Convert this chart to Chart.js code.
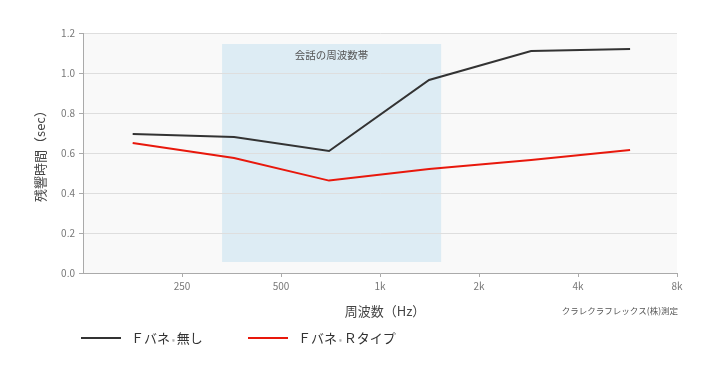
<!DOCTYPE html>
<html>
<head>
<meta charset="utf-8">
<script src="https://cdn.jsdelivr.net/npm/chart.js@4.4.1/dist/chart.umd.min.js"></script>
<style>
  body { margin: 0; background: #fff; }
  #wrap { position: relative; width: 710px; height: 376px; }
  #chart { position: absolute; left: 0; top: 0; }
  .item { position: absolute; top: 328px; height: 20px; font-family: "Noto Sans CJK JP", sans-serif; font-size: 13px; color: #333; line-height: 20px; white-space: nowrap; }
  .item .ln { position: absolute; left: 0; top: 9px; width: 40px; height: 2px; }
  .item .tx { position: absolute; left: 50px; top: 0; }
  .item .r { font-size: 6px; color: #777; vertical-align: -1px; margin: 0 2px; }
</style>
</head>
<body>
<div id="wrap">
  <canvas id="chart" width="710" height="376"></canvas>
  <div class="item" style="left:81px;"><span class="ln" style="background:#333;"></span><span class="tx">Ｆバネ<span class="r">®</span>無し</span></div>
  <div class="item" style="left:248px;"><span class="ln" style="background:#e8180c;"></span><span class="tx">Ｆバネ<span class="r">®</span>Ｒタイプ</span></div>
</div>
<script>
// 周波数 (Hz) と残響時間 (sec)
const freqs = [177, 360, 700, 1410, 2880, 5760];
const plainSpring = [0.695, 0.68, 0.61, 0.965, 1.11, 1.12];
const rTypeSpring = [0.65, 0.575, 0.462, 0.52, 0.565, 0.615];
const seriesNames = ['Ｆバネ®無し', 'ＦバネＲタイプ'];

const xTicks = [250, 500, 1000, 2000, 4000, 8000];
const xTickLabels = ['250', '500', '1k', '2k', '4k', '8k'];

// 会話の周波数帯
const bandFreq = [331, 1534];
const bandTime = [0.055, 1.145];
const bandLabel = '会話の周波数帯';

const FONT = '"Noto Sans CJK JP", sans-serif';

function toPoints(vals) {
  return freqs.map((f, i) => ({ x: f, y: vals[i] }));
}

const backdrop = {
  id: 'backdrop',
  beforeDraw(chart) {
    const a = chart.chartArea, c = chart.ctx;
    const x = chart.scales.x, y = chart.scales.y;
    c.save();
    c.fillStyle = '#f9f9f9';
    c.fillRect(a.left, a.top, a.right - a.left, a.bottom - a.top);
    const x0 = x.getPixelForValue(bandFreq[0]), x1 = x.getPixelForValue(bandFreq[1]);
    const y0 = y.getPixelForValue(bandTime[1]), y1 = y.getPixelForValue(bandTime[0]);
    c.fillStyle = '#ddecf4';
    c.fillRect(x0, y0, x1 - x0, y1 - y0);
    c.fillStyle = '#555';
    c.font = '10.5px ' + FONT;
    c.textAlign = 'center';
    c.textBaseline = 'middle';
    c.fillText(bandLabel, (x0 + x1) / 2, y0 + 11);
    c.restore();
  },
  afterDraw(chart) {
    const a = chart.chartArea, c = chart.ctx;
    c.save();
    c.fillStyle = '#444';
    c.font = '13px ' + FONT;
    c.textAlign = 'center';
    c.textBaseline = 'middle';
    c.fillText('周波数（Hz）', 385, 311);
    c.translate(40, (a.top + a.bottom) / 2);
    c.rotate(-Math.PI / 2);
    c.fillText('残響時間（sec）', 0, 0);
    c.restore();
    c.save();
    c.fillStyle = '#555';
    c.font = '8.5px ' + FONT;
    c.textAlign = 'right';
    c.textBaseline = 'middle';
    c.fillText('クラレクラフレックス(株)測定', a.right + 1, 311);
    c.restore();
  }
};

new Chart(document.getElementById('chart'), {
  type: 'line',
  data: {
    datasets: [{
      label: seriesNames[0],
      data: toPoints(plainSpring),
      borderColor: '#333333',
      borderWidth: 2,
      pointRadius: 0,
      tension: 0
    }, {
      label: seriesNames[1],
      data: toPoints(rTypeSpring),
      borderColor: '#e8180c',
      borderWidth: 2,
      pointRadius: 0,
      tension: 0
    }]
  },
  plugins: [backdrop],
  options: {
    responsive: false,
    animation: false,
    layout: { padding: { top: 33, right: 33, bottom: 73, left: 0 } },
    plugins: { legend: { display: false }, tooltip: { enabled: false } },
    scales: {
      x: {
        type: 'logarithmic',
        min: 125,
        max: 8000,
        afterBuildTicks(axis) { axis.ticks = xTicks.map(v => ({ value: v })); },
        afterFit(axis) { axis.height = 30; },
        border: { color: '#aaa' },
        grid: { drawOnChartArea: false, tickLength: 4, color: '#aaa' },
        ticks: {
          autoSkip: false, maxRotation: 0, padding: 3,
          color: '#777', font: { size: 10, family: FONT },
          callback: (v) => xTickLabels[xTicks.indexOf(v)]
        }
      },
      y: {
        min: 0,
        max: 1.2,
        afterFit(axis) { axis.width = 83; },
        border: { color: '#aaa' },
        grid: { color: '#dedede', tickColor: '#aaa', tickLength: 4 },
        ticks: {
          stepSize: 0.2, padding: 4,
          color: '#777', font: { size: 10, family: FONT },
          callback: (v) => v.toFixed(1)
        }
      }
    }
  }
});
</script>
</body>
</html>
